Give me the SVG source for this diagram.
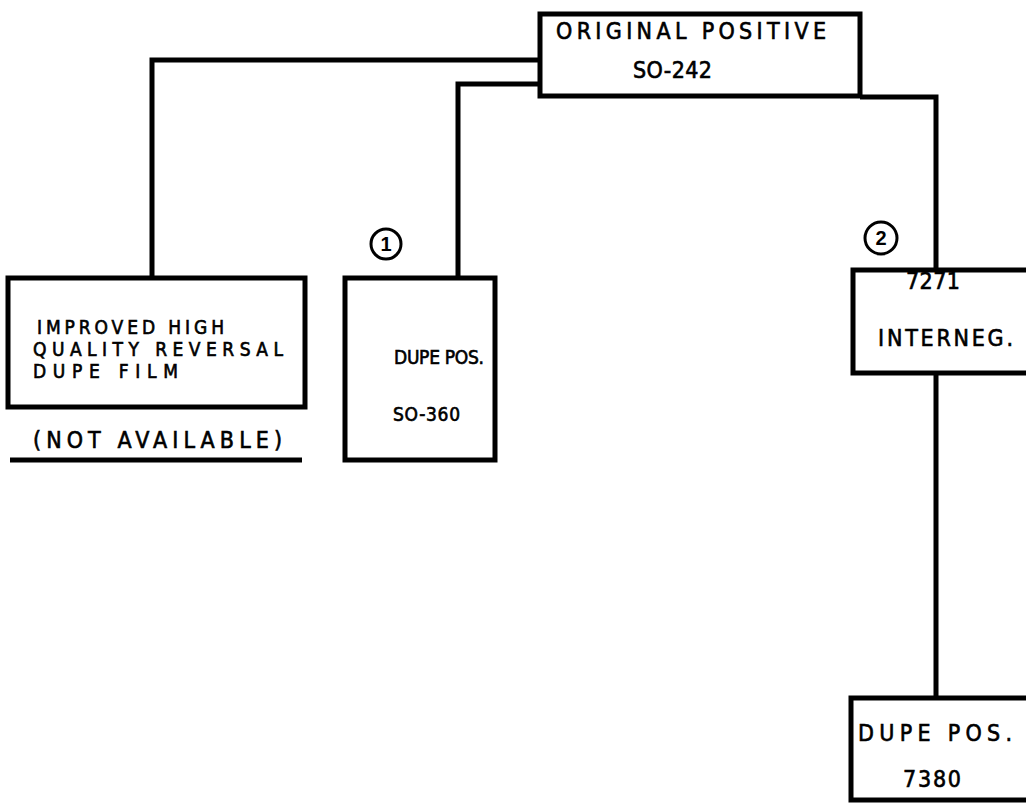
<svg xmlns="http://www.w3.org/2000/svg" width="1026" height="804" viewBox="0 0 1026 804">
<style>
.box{fill:#fff;stroke:#000;stroke-width:5}
.ln{fill:none;stroke:#000;stroke-width:5;stroke-linejoin:miter}
.t{font-family:"Liberation Sans Narrow","DejaVu Sans Condensed","Liberation Sans",sans-serif;font-size:23px;fill:#000;stroke:#000;stroke-width:0.6}
.s{font-size:19px}
.c{fill:#fff;stroke:#000;stroke-width:3}
.n{font-family:"Liberation Sans","DejaVu Sans",sans-serif;font-size:20px;font-weight:bold;fill:#000;text-anchor:middle}
</style>
<rect width="1026" height="804" fill="#fff"/>
<g id="connectors">
<path class="ln" d="M540 60 H152 V278"/>
<path class="ln" d="M540 84 H458 V278"/>
<path class="ln" d="M860 97 H936 V270"/>
<path class="ln" d="M936 373 V698"/>
<line class="ln" x1="10" y1="460" x2="302" y2="460"/>
</g>
<g id="original">
<rect class="box" x="540" y="14" width="320" height="82"/>
<text class="t" x="556" y="39" textLength="270" lengthAdjust="spacing">ORIGINAL POSITIVE</text>
<text class="t" x="633" y="78" textLength="79" lengthAdjust="spacing">SO-242</text>
</g>
<g id="improved">
<rect class="box" x="8" y="278" width="297" height="129"/>
<text class="t s" x="37" y="334" textLength="187" lengthAdjust="spacing">IMPROVED HIGH</text>
<text class="t s" x="33" y="356" textLength="250" lengthAdjust="spacing">QUALITY REVERSAL</text>
<text class="t s" x="33" y="378" textLength="145" lengthAdjust="spacing">DUPE FILM</text>
<text class="t" x="33" y="448" textLength="249" lengthAdjust="spacing">(NOT AVAILABLE)</text>
</g>
<g id="dupe360">
<rect class="box" x="345" y="278" width="150" height="182"/>
<text class="t s" x="394" y="364" textLength="90" lengthAdjust="spacing">DUPE POS.</text>
<text class="t s" x="393" y="421" textLength="67" lengthAdjust="spacing">SO-360</text>
<circle class="c" cx="386" cy="244" r="15"/>
<text class="n" x="386" y="251">1</text>
</g>
<g id="interneg">
<rect class="box" x="853" y="270" width="180" height="103"/>
<text class="t" x="906" y="289" textLength="54" lengthAdjust="spacing">7271</text>
<text class="t" x="878" y="346" textLength="135" lengthAdjust="spacing">INTERNEG.</text>
<circle class="c" cx="881" cy="238" r="16"/>
<text class="n" x="881" y="245">2</text>
</g>
<g id="dupe7380">
<rect class="box" x="851" y="698" width="180" height="102"/>
<text class="t" x="858" y="741" textLength="154" lengthAdjust="spacing">DUPE POS.</text>
<text class="t" x="903" y="787" textLength="58" lengthAdjust="spacing">7380</text>
</g>
</svg>
